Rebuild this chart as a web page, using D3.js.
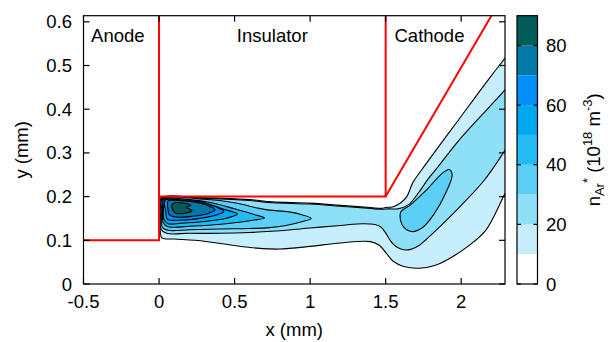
<!DOCTYPE html>
<html>
<head>
<meta charset="utf-8">
<script src="https://cdn.jsdelivr.net/npm/d3@7"></script>
<style>
  html, body { margin: 0; padding: 0; background: #fff; }
  svg { display: block; font-family: "Liberation Sans", Arial, sans-serif; }
</style>
</head>
<body>
<svg id="chart" width="610" height="342"></svg>
<script>
// Metastable argon density n_Ar* between anode, insulator and cathode.
// Each isoline is a closed outline (x, y in mm) enclosing density above its level.
const levels = [10, 20, 30, 40, 50, 60, 70, 80];
const bandColors = ["#ffffff", "#c6eefb", "#8edff8", "#5ccff7", "#22bbf3",
                    "#00a8f0", "#0090f8", "#0078a8", "#005c58"];

const iso10 = [
  [0.010, 0.197], [0.30, 0.197], [0.60, 0.193], [0.75, 0.188], [1.00, 0.185],
  [1.20, 0.180], [1.40, 0.175], [1.47, 0.173], [1.50, 0.175], [1.55, 0.177],
  [1.60, 0.186], [1.64, 0.200], [1.68, 0.232], [1.74, 0.262], [2.00, 0.384],
  [2.20, 0.477], [2.29, 0.517], [2.40, 0.570], [2.42, 0.30], [2.36, 0.250],
  [2.29, 0.207], [2.165, 0.124], [2.055, 0.089], [1.94, 0.062], [1.83, 0.043],
  [1.72, 0.036], [1.62, 0.040], [1.55, 0.052], [1.505, 0.070], [1.46, 0.088],
  [1.40, 0.097], [1.20, 0.094], [1.00, 0.086], [0.80, 0.080], [0.65, 0.082],
  [0.50, 0.088], [0.30, 0.098], [0.10, 0.103], [0.02, 0.105], [0.008, 0.12],
  [0.008, 0.18]
];
const iso20 = [
  [0.015, 0.196], [0.30, 0.196], [0.60, 0.191], [0.75, 0.186], [1.00, 0.183],
  [1.20, 0.178], [1.40, 0.173], [1.47, 0.171], [1.52, 0.172], [1.58, 0.172],
  [1.65, 0.181], [1.72, 0.210], [1.78, 0.240], [1.83, 0.261], [2.00, 0.335],
  [2.29, 0.444], [2.40, 0.490], [2.42, 0.40], [2.36, 0.345],
  [2.29, 0.306], [2.154, 0.238], [2.00, 0.180], [1.90, 0.145], [1.80, 0.112],
  [1.72, 0.088], [1.65, 0.078], [1.60, 0.080], [1.56, 0.088], [1.53, 0.100],
  [1.50, 0.117], [1.47, 0.130], [1.43, 0.136], [1.35, 0.138], [1.20, 0.134],
  [1.00, 0.128], [0.80, 0.122], [0.60, 0.118], [0.40, 0.116], [0.20, 0.116],
  [0.05, 0.116], [0.014, 0.125], [0.012, 0.17]
];
// inner ellipse in the cathode region
const iso30b = [
  [1.60, 0.165], [1.66, 0.180], [1.76, 0.212], [1.88, 0.255], [1.92, 0.262],
  [1.94, 0.250], [1.90, 0.210], [1.82, 0.160], [1.74, 0.128], [1.67, 0.120],
  [1.61, 0.135]
];
const iso30 = [
  [0.020, 0.195], [0.30, 0.194], [0.50, 0.186], [0.65, 0.174], [0.73, 0.169],
  [0.86, 0.165], [0.95, 0.158], [1.007, 0.150], [0.95, 0.143], [0.84, 0.134],
  [0.73, 0.129], [0.60, 0.127], [0.40, 0.126], [0.20, 0.124], [0.06, 0.123],
  [0.022, 0.130], [0.018, 0.17]
];
const iso40 = [
  [0.025, 0.194], [0.20, 0.193], [0.35, 0.186], [0.50, 0.172], [0.62, 0.160],
  [0.698, 0.151], [0.62, 0.146], [0.50, 0.140], [0.35, 0.135], [0.20, 0.132],
  [0.06, 0.131], [0.028, 0.140], [0.024, 0.175]
];
const iso50 = [
  [0.030, 0.193], [0.15, 0.192], [0.30, 0.186], [0.42, 0.172], [0.52, 0.160],
  [0.44, 0.150], [0.30, 0.143], [0.15, 0.139], [0.06, 0.138], [0.032, 0.148],
  [0.030, 0.175]
];
const iso60 = [
  [0.040, 0.192], [0.15, 0.191], [0.28, 0.186], [0.38, 0.176], [0.43, 0.166],
  [0.36, 0.156], [0.25, 0.149], [0.12, 0.146], [0.055, 0.148], [0.045, 0.165]
];
const iso70 = [
  [0.060, 0.190], [0.16, 0.190], [0.27, 0.185], [0.34, 0.177], [0.37, 0.170],
  [0.32, 0.161], [0.22, 0.155], [0.12, 0.153], [0.07, 0.158], [0.058, 0.175]
];
const iso80 = [
  [0.090, 0.184], [0.15, 0.186], [0.21, 0.180], [0.18, 0.175], [0.22, 0.168],
  [0.17, 0.162], [0.11, 0.162], [0.088, 0.172]
];

const electrodes = [
  [[-0.5, 0.1], [0, 0.1], [0, 0.614]],          // anode
  [[0, 0.2], [1.5, 0.2], [1.5, 0.614]],          // insulator
  [[1.5, 0.2], [2.2, 0.614]]                     // cathode
];
const regionLabels = [
  { text: "Anode", x: -0.45, anchor: "start" },
  { text: "Insulator", x: 0.75, anchor: "middle" },
  { text: "Cathode", x: 1.79, anchor: "middle" }
];
const xTicks = [-0.5, 0, 0.5, 1, 1.5, 2];
const yTicks = [0, 0.1, 0.2, 0.3, 0.4, 0.5, 0.6];
const cbTicks = [0, 20, 40, 60, 80];

const svg = d3.select("#chart");
const pL = 83.5, pR = 505, pT = 15.7, pB = 284;
const x = d3.scaleLinear().domain([-0.5, 2.29]).range([pL, pR]);
const y = d3.scaleLinear().domain([0, 0.614]).range([pB, pT]);

svg.append("clipPath").attr("id", "plotClip")
  .append("rect").attr("x", pL).attr("y", pT)
  .attr("width", pR - pL).attr("height", pB - pT);

const plot = svg.append("g").attr("clip-path", "url(#plotClip)");
const line = d3.line().x(d => x(d[0])).y(d => y(d[1]))
  .curve(d3.curveCatmullRomClosed.alpha(0.5));

const isolines = [
  { pts: iso10, lv: 10 }, { pts: iso20, lv: 20 }, { pts: iso30, lv: 30 },
  { pts: iso30b, lv: 30 }, { pts: iso40, lv: 40 }, { pts: iso50, lv: 50 },
  { pts: iso60, lv: 60 }, { pts: iso70, lv: 70 }, { pts: iso80, lv: 80 }
];
plot.selectAll("path.iso").data(isolines).join("path")
  .attr("class", "iso")
  .attr("d", d => line(d.pts))
  .attr("fill", d => bandColors[levels.indexOf(d.lv) + 1])
  .attr("stroke", "#000").attr("stroke-width", 1.1)
  .attr("stroke-linejoin", "round");

const straight = d3.line().x(d => x(d[0])).y(d => y(d[1]));
plot.selectAll("path.electrode").data(electrodes).join("path")
  .attr("class", "electrode")
  .attr("d", straight).attr("fill", "none")
  .attr("stroke", "#ff0000").attr("stroke-width", 2);

svg.selectAll("text.region").data(regionLabels).join("text")
  .attr("class", "region")
  .attr("x", d => x(d.x)).attr("y", 41.5)
  .attr("text-anchor", d => d.anchor)
  .attr("font-size", 18.5).text(d => d.text);

// frame and inward ticks on all four sides
const axes = svg.append("g").attr("stroke", "#000").attr("stroke-width", 1.2);
axes.append("rect").attr("x", pL).attr("y", pT)
  .attr("width", pR - pL).attr("height", pB - pT).attr("fill", "none");
const tl = 6;
xTicks.forEach(t => {
  axes.append("line").attr("x1", x(t)).attr("x2", x(t)).attr("y1", pB).attr("y2", pB - tl);
  axes.append("line").attr("x1", x(t)).attr("x2", x(t)).attr("y1", pT).attr("y2", pT + tl);
});
yTicks.forEach(t => {
  axes.append("line").attr("x1", pL).attr("x2", pL + tl).attr("y1", y(t)).attr("y2", y(t));
  axes.append("line").attr("x1", pR).attr("x2", pR - tl).attr("y1", y(t)).attr("y2", y(t));
});

svg.selectAll("text.xt").data(xTicks).join("text")
  .attr("class", "xt").attr("x", d => x(d)).attr("y", 308)
  .attr("text-anchor", "middle").attr("font-size", 18.5).text(d => d);
svg.selectAll("text.yt").data(yTicks).join("text")
  .attr("class", "yt").attr("x", 72).attr("y", d => y(d) + 6.5)
  .attr("text-anchor", "end").attr("font-size", 18.5).text(d => d);

svg.append("text").attr("x", (pL + pR) / 2).attr("y", 336)
  .attr("text-anchor", "middle").attr("font-size", 18.5).text("x (mm)");
svg.append("text").attr("transform", `translate(28,${(pT + pB) / 2}) rotate(-90)`)
  .attr("text-anchor", "middle").attr("font-size", 18.5).text("y (mm)");

// colour bar
const cbx = 517, cbw = 20.5;
const cy = d3.scaleLinear().domain([0, 90]).range([pB, pT]);
const bands = d3.range(9).map(i => ({ lo: i * 10, hi: i * 10 + 10, c: bandColors[i] }));
svg.selectAll("rect.band").data(bands).join("rect")
  .attr("class", "band").attr("x", cbx).attr("width", cbw)
  .attr("y", d => cy(d.hi)).attr("height", d => cy(d.lo) - cy(d.hi))
  .attr("fill", d => d.c);
const cbAxis = svg.append("g").attr("stroke", "#000").attr("stroke-width", 1.2);
cbAxis.append("rect").attr("x", cbx).attr("y", pT).attr("width", cbw)
  .attr("height", pB - pT).attr("fill", "none");
cbTicks.forEach(t => {
  cbAxis.append("line").attr("x1", cbx).attr("x2", cbx + 4).attr("y1", cy(t)).attr("y2", cy(t));
  cbAxis.append("line").attr("x1", cbx + cbw).attr("x2", cbx + cbw - 4).attr("y1", cy(t)).attr("y2", cy(t));
});
svg.selectAll("text.ct").data(cbTicks).join("text")
  .attr("class", "ct").attr("x", 546).attr("y", d => cy(d) + 6.5)
  .attr("font-size", 18.5).text(d => d);

// n_Ar* (10^18 m^-3), rotated beside the colour bar
const cbTitle = svg.append("text")
  .attr("transform", `translate(600,${(pT + pB) / 2}) rotate(-90)`)
  .attr("text-anchor", "middle").attr("font-size", 18.5);
cbTitle.append("tspan").text("n");
cbTitle.append("tspan").attr("font-size", 13).attr("dy", 4).text("Ar");
cbTitle.append("tspan").attr("font-size", 13).attr("dy", -12).text("*");
cbTitle.append("tspan").attr("dy", 8).text(" (10");
cbTitle.append("tspan").attr("font-size", 13).attr("dy", -8).text("18");
cbTitle.append("tspan").attr("dy", 8).text(" m");
cbTitle.append("tspan").attr("font-size", 13).attr("dy", -8).text("-3");
cbTitle.append("tspan").attr("dy", 8).text(")");
</script>
</body>
</html>
